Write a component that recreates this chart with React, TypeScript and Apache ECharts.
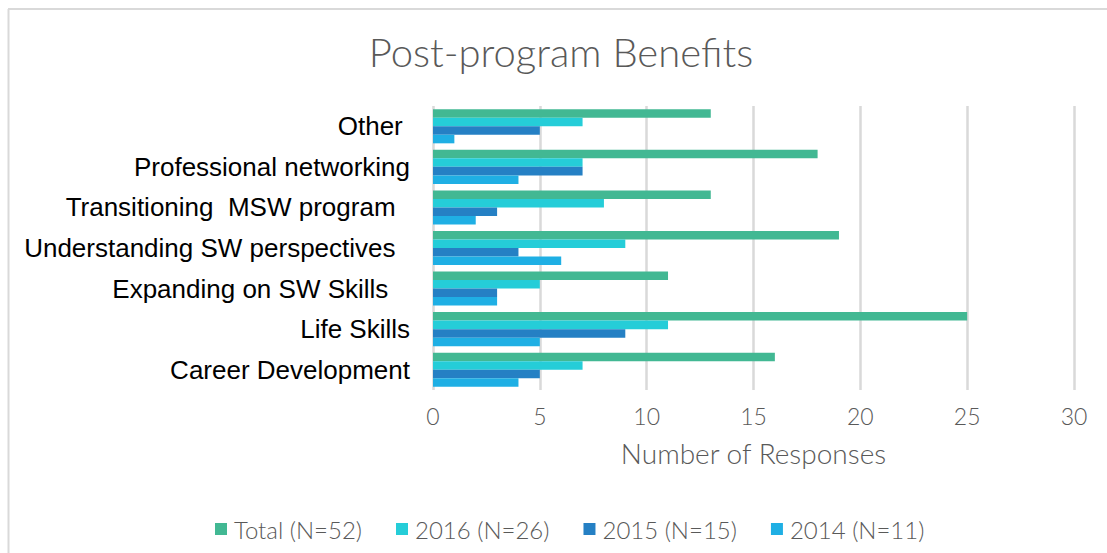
import React, { useEffect, useRef } from "react";
import * as echarts from "echarts";

const categories = [
  "Career Development",
  "Life Skills",
  "Expanding on SW Skills   ",
  "Understanding SW perspectives  ",
  "Transitioning  MSW program  ",
  "Professional networking",
  "Other ",
];
const seriesNames = ["Total (N=52)", "2016 (N=26)", "2015 (N=15)", "2014 (N=11)"];
const totalValues = [16, 25, 11, 19, 13, 18, 13];
const values2016 = [7, 11, 5, 9, 8, 7, 7];
const values2015 = [5, 9, 3, 4, 3, 7, 5];
const values2014 = [4, 5, 3, 6, 2, 4, 1];
const colors = ["#42B893", "#25CDD8", "#2580C4", "#1FAFE4"];

const thinFont = "Lato";
const grayText = "#595959";

export default function App() {
  const ref = useRef<HTMLDivElement>(null);
  useEffect(() => {
    document.body.style.margin = "0";
    const chart = echarts.init(ref.current!, null, { renderer: "svg" });
    const data = [totalValues, values2016, values2015, values2014];
    chart.setOption({
      animation: false,
      backgroundColor: "#ffffff",
      title: {
        text: "Post-program Benefits",
        left: 556,
        top: 27,
        textAlign: "center",
        textStyle: {
          fontFamily: thinFont,
          fontWeight: 300,
          fontSize: 40,
          color: grayText,
        },
      },
      legend: {
        data: seriesNames,
        top: 512,
        left: 210,
        itemWidth: 12,
        itemHeight: 12,
        itemGap: 34,
        icon: "rect",
        textStyle: {
          fontFamily: thinFont,
          fontWeight: 300,
          fontSize: 24,
          color: grayText,
          padding: [0, 0, 0, 2],
        },
      },
      grid: { left: 433, right: 33, top: 106, bottom: 163, containLabel: false },
      xAxis: {
        type: "value",
        min: 0,
        max: 30,
        interval: 5,
        name: "Number of Responses",
        nameLocation: "middle",
        nameGap: 49,
        nameTextStyle: {
          fontFamily: thinFont,
          fontWeight: 300,
          fontSize: 28,
          color: grayText,
        },
        axisLine: { show: false },
        axisTick: { show: false },
        axisLabel: {
          margin: 14,
          fontFamily: thinFont,
          fontWeight: 300,
          fontSize: 23,
          color: grayText,
        },
        splitLine: { show: true, lineStyle: { color: "#d9d9d9", width: 2.5 } },
      },
      yAxis: {
        type: "category",
        data: categories,
        axisLine: { show: false },
        axisTick: { show: false },
        axisLabel: {
          margin: 23,
          fontFamily: "Liberation Sans",
          fontSize: 26,
          color: "#000000",
        },
      },
      graphic: [
        {
          type: "line",
          shape: { x1: 8, y1: 9, x2: 1107, y2: 9 },
          style: { stroke: "#d9d9d9", lineWidth: 2 },
          silent: true,
        },
        {
          type: "line",
          shape: { x1: 8.5, y1: 9, x2: 8.5, y2: 553 },
          style: { stroke: "#d9d9d9", lineWidth: 2 },
          silent: true,
        },
      ],
      series: data.map((vals, i) => ({
        name: seriesNames[i],
        type: "bar",
        data: vals,
        barGap: "0%",
        barCategoryGap: "16%",
        itemStyle: { color: colors[i] },
      })),
    });
    return () => chart.dispose();
  }, []);
  return <div ref={ref} style={{ width: 1107, height: 553 }} />;
}
